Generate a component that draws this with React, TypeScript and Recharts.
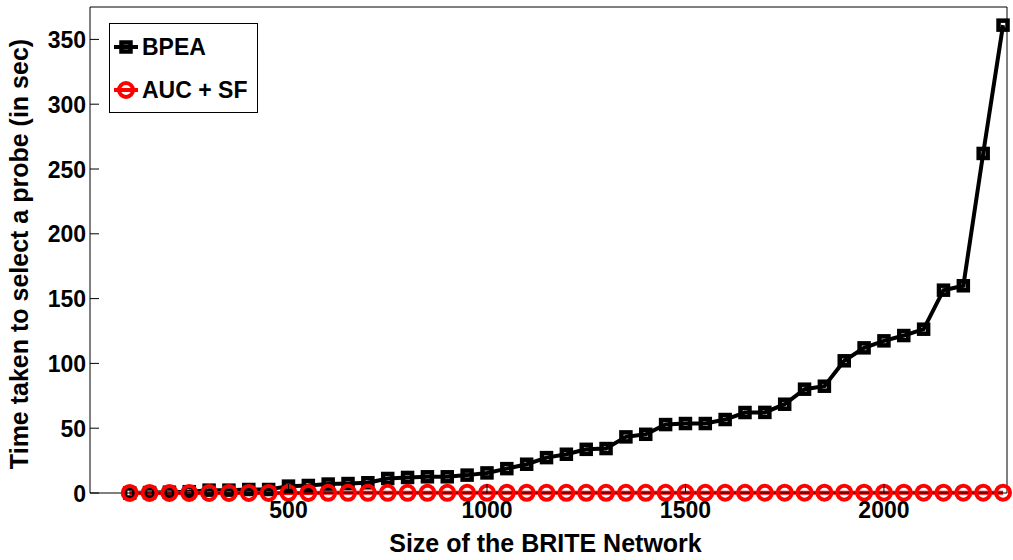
import React from "react";
import { LineChart, Line, XAxis, YAxis, Legend } from "recharts";

// network sizes (x)
const SIZES = [
  100, 150, 200, 250, 300, 350, 400, 450, 500, 550, 600, 650, 700, 750, 800,
  850, 900, 950, 1000, 1050, 1100, 1150, 1200, 1250, 1300, 1350, 1400, 1450,
  1500, 1550, 1600, 1650, 1700, 1750, 1800, 1850, 1900, 1950, 2000, 2050, 2100,
  2150, 2200, 2250, 2300,
];

const BPEA = [
  0, 0.3, 0.6, 1.0, 2.2, 2.2, 2.7, 2.7, 5.3, 5.8, 6.9, 7.3, 7.9, 11.2, 12,
  12.5, 12.5, 13.8, 15.5, 18.8, 22.2, 27.3, 29.9, 33.7, 34.3, 43.3, 45.3, 52.8,
  53.6, 53.6, 56.7, 62.1, 62.2, 68.5, 80.1, 82.4, 102, 112, 117.4, 121.5, 126.4,
  156.5, 159.9, 262, 361,
];

const AUC_SF = [
  0.05, 0.05, 0.06, 0.06, 0.07, 0.07, 0.08, 0.08, 0.09, 0.09, 0.1, 0.1, 0.1,
  0.11, 0.11, 0.12, 0.12, 0.13, 0.13, 0.14, 0.14, 0.15, 0.15, 0.16, 0.16, 0.17,
  0.17, 0.18, 0.18, 0.19, 0.19, 0.2, 0.2, 0.21, 0.21, 0.22, 0.22, 0.23, 0.23,
  0.24, 0.24, 0.25, 0.25, 0.26, 0.26,
];

const X_TICKS = [500, 1000, 1500, 2000];
const Y_TICKS = [0, 50, 100, 150, 200, 250, 300, 350];

const data = SIZES.map((size, i) => ({ size, bpea: BPEA[i], auc: AUC_SF[i] }));

const FONT = '"Liberation Sans", Arial, Helvetica, sans-serif';
const TICK_LEN = 9;

const BottomTick = ({ x, y, payload }: any) => (
  <g>
    <line x1={x} x2={x} y1={y} y2={y - TICK_LEN} stroke="#000" strokeWidth={1} />
    <text x={x} y={y + 25} textAnchor="middle" fontFamily={FONT} fontWeight="bold" fontSize={23} fill="#000">
      {payload.value}
    </text>
  </g>
);

const TopTick = ({ x, y }: any) => (
  <line x1={x} x2={x} y1={y} y2={y + TICK_LEN} stroke="#000" strokeWidth={1} />
);

const LeftTick = ({ x, y, payload }: any) => (
  <g>
    <line x1={x} x2={x + TICK_LEN} y1={y} y2={y} stroke="#000" strokeWidth={1} />
    <text x={x - 4} y={y + 8.5} textAnchor="end" fontFamily={FONT} fontWeight="bold" fontSize={23} fill="#000">
      {payload.value}
    </text>
  </g>
);

const RightTick = ({ x, y }: any) => (
  <line x1={x} x2={x - TICK_LEN} y1={y} y2={y} stroke="#000" strokeWidth={1} />
);

const SquareDot = ({ cx, cy, index }: any) => (
  <rect key={`sq-${index}`} x={cx - 4.5} y={cy - 4.5} width={9} height={9} fill="none" stroke="#000" strokeWidth={4.5} />
);

const CircleDot = ({ cx, cy, index }: any) => (
  <circle key={`ci-${index}`} cx={cx} cy={cy} r={7} fill="none" stroke="#ff0000" strokeWidth={4} />
);

const renderLegend = () => (
  <svg width={150} height={91} style={{ display: "block" }}>
    <rect x={0.5} y={0.5} width={148} height={89} fill="#fff" stroke="#000" strokeWidth={1} />
    <line x1={5} x2={29} y1={24} y2={24} stroke="#000" strokeWidth={4} />
    <rect x={12.5} y={19.5} width={9} height={9} fill="none" stroke="#000" strokeWidth={4.5} />
    <text x={33} y={32} fontFamily={FONT} fontWeight="bold" fontSize={23} fill="#000">
      BPEA
    </text>
    <line x1={5} x2={29} y1={67} y2={67} stroke="#ff0000" strokeWidth={4} />
    <circle cx={17} cy={67} r={7} fill="none" stroke="#ff0000" strokeWidth={4} />
    <text x={33} y={75} fontFamily={FONT} fontWeight="bold" fontSize={23} fill="#000">
      AUC + SF
    </text>
  </svg>
);

export default function App() {
  return (
    <div style={{ position: "absolute", left: 0, top: 0, background: "#fff" }}>
      <LineChart width={1013} height={560} data={data} margin={{ top: 6, right: 5, bottom: 66, left: 0 }}>
        <XAxis
          dataKey="size"
          type="number"
          domain={[0, 2310]}
          ticks={X_TICKS}
          height={1}
          tickSize={0}
          tickMargin={0}
          tickLine={false}
          tick={<BottomTick />}
          stroke="#000"
          interval={0}
          label={{
            content: ({ viewBox }: any) => (
              <text
                x={viewBox.x + viewBox.width / 2 - 3}
                y={viewBox.y + 58.7}
                textAnchor="middle"
                fontFamily={FONT}
                fontWeight="bold"
                fontSize={25}
                fill="#000"
              >
                Size of the BRITE Network
              </text>
            ),
          }}
        />
        <XAxis
          xAxisId="top"
          orientation="top"
          type="number"
          domain={[0, 2310]}
          ticks={X_TICKS}
          height={1}
          tickSize={0}
          tickMargin={0}
          tickLine={false}
          tick={<TopTick />}
          stroke="#000"
          interval={0}
        />
        <YAxis
          type="number"
          domain={[0, 375]}
          ticks={Y_TICKS}
          width={90}
          tickSize={0}
          tickMargin={0}
          tickLine={false}
          tick={<LeftTick />}
          stroke="#000"
          interval={0}
          label={{
            content: ({ viewBox }: any) => {
              const cy = viewBox.y + viewBox.height / 2 + 4;
              return (
                <text
                  x={27.5}
                  y={cy}
                  transform={`rotate(-90, 27.5, ${cy})`}
                  textAnchor="middle"
                  fontFamily={FONT}
                  fontWeight="bold"
                  fontSize={25}
                  fill="#000"
                >
                  Time taken to select a probe (in sec)
                </text>
              );
            },
          }}
        />
        <YAxis
          yAxisId="right"
          orientation="right"
          type="number"
          domain={[0, 375]}
          ticks={Y_TICKS}
          width={1}
          tickSize={0}
          tickMargin={0}
          tickLine={false}
          tick={<RightTick />}
          stroke="#000"
          interval={0}
        />
        <Legend
          layout="vertical"
          align="center"
          verticalAlign="middle"
          content={renderLegend}
          wrapperStyle={{ position: "absolute", left: 109, top: 23, width: 150, height: 91 }}
        />
        <Line
          dataKey="bpea"
          name="BPEA"
          stroke="#000"
          strokeWidth={4}
          dot={SquareDot}
          activeDot={false}
          isAnimationActive={false}
        />
        <Line
          dataKey="auc"
          name="AUC + SF"
          stroke="#ff0000"
          strokeWidth={4}
          dot={CircleDot}
          activeDot={false}
          isAnimationActive={false}
        />
      </LineChart>
    </div>
  );
}
